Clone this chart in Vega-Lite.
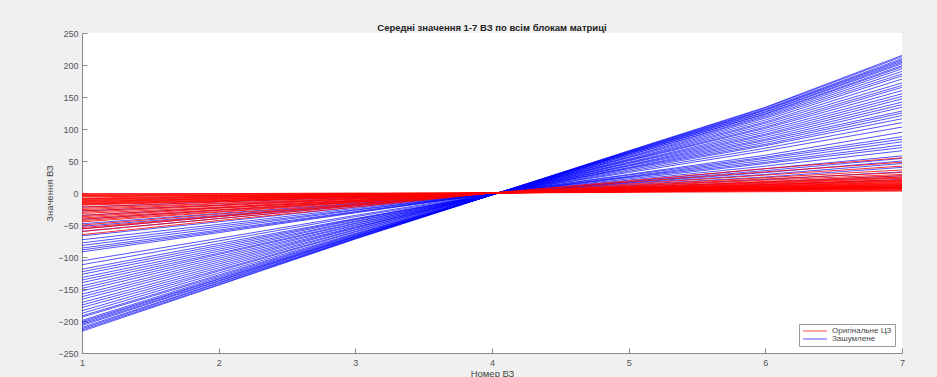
{"$schema":"https://vega.github.io/schema/vega-lite/v6.json","width":820,"height":320,"autosize":{"type":"none"},"padding":{"left":82,"top":33,"right":35,"bottom":24},"background":"#f0f0f0",
"title":{"text":"Середні значення 1-7 ВЗ по всім блокам матриці","fontSize":9.5,"fontWeight":"bold","font":"Liberation Sans","color":"#222222","offset":-3,"anchor":"middle"},
"data":{"values":[
{"g":"b","i":1,"x":1,"y":-216},{"g":"b","i":1,"x":2,"y":-144},{"g":"b","i":1,"x":3,"y":-72},{"g":"b","i":1,"x":4,"y":-3},{"g":"b","i":1,"x":5,"y":66},{"g":"b","i":1,"x":6,"y":134},{"g":"b","i":1,"x":7,"y":215},
{"g":"b","i":2,"x":1,"y":-214},{"g":"b","i":2,"x":2,"y":-143},{"g":"b","i":2,"x":3,"y":-71},{"g":"b","i":2,"x":4,"y":-3},{"g":"b","i":2,"x":5,"y":65},{"g":"b","i":2,"x":6,"y":133},{"g":"b","i":2,"x":7,"y":213},
{"g":"b","i":3,"x":1,"y":-212},{"g":"b","i":3,"x":2,"y":-141},{"g":"b","i":3,"x":3,"y":-71},{"g":"b","i":3,"x":4,"y":-3},{"g":"b","i":3,"x":5,"y":65},{"g":"b","i":3,"x":6,"y":131},{"g":"b","i":3,"x":7,"y":210},
{"g":"b","i":4,"x":1,"y":-210},{"g":"b","i":4,"x":2,"y":-140},{"g":"b","i":4,"x":3,"y":-70},{"g":"b","i":4,"x":4,"y":-3},{"g":"b","i":4,"x":5,"y":64},{"g":"b","i":4,"x":6,"y":130},{"g":"b","i":4,"x":7,"y":208},
{"g":"b","i":5,"x":1,"y":-207},{"g":"b","i":5,"x":2,"y":-138},{"g":"b","i":5,"x":3,"y":-69},{"g":"b","i":5,"x":4,"y":-3},{"g":"b","i":5,"x":5,"y":63},{"g":"b","i":5,"x":6,"y":129},{"g":"b","i":5,"x":7,"y":206},
{"g":"b","i":6,"x":1,"y":-205},{"g":"b","i":6,"x":2,"y":-137},{"g":"b","i":6,"x":3,"y":-68},{"g":"b","i":6,"x":4,"y":-3},{"g":"b","i":6,"x":5,"y":63},{"g":"b","i":6,"x":6,"y":127},{"g":"b","i":6,"x":7,"y":204},
{"g":"b","i":7,"x":1,"y":-203},{"g":"b","i":7,"x":2,"y":-135},{"g":"b","i":7,"x":3,"y":-68},{"g":"b","i":7,"x":4,"y":-3},{"g":"b","i":7,"x":5,"y":62},{"g":"b","i":7,"x":6,"y":126},{"g":"b","i":7,"x":7,"y":202},
{"g":"b","i":8,"x":1,"y":-201},{"g":"b","i":8,"x":2,"y":-134},{"g":"b","i":8,"x":3,"y":-67},{"g":"b","i":8,"x":4,"y":-3},{"g":"b","i":8,"x":5,"y":61},{"g":"b","i":8,"x":6,"y":124},{"g":"b","i":8,"x":7,"y":199},
{"g":"b","i":9,"x":1,"y":-199},{"g":"b","i":9,"x":2,"y":-132},{"g":"b","i":9,"x":3,"y":-66},{"g":"b","i":9,"x":4,"y":-3},{"g":"b","i":9,"x":5,"y":61},{"g":"b","i":9,"x":6,"y":123},{"g":"b","i":9,"x":7,"y":197},
{"g":"b","i":10,"x":1,"y":-194},{"g":"b","i":10,"x":2,"y":-130},{"g":"b","i":10,"x":3,"y":-65},{"g":"b","i":10,"x":4,"y":-3},{"g":"b","i":10,"x":5,"y":59},{"g":"b","i":10,"x":6,"y":121},{"g":"b","i":10,"x":7,"y":194},
{"g":"b","i":11,"x":1,"y":-192},{"g":"b","i":11,"x":2,"y":-128},{"g":"b","i":11,"x":3,"y":-64},{"g":"b","i":11,"x":4,"y":-3},{"g":"b","i":11,"x":5,"y":59},{"g":"b","i":11,"x":6,"y":119},{"g":"b","i":11,"x":7,"y":190},
{"g":"b","i":12,"x":1,"y":-188},{"g":"b","i":12,"x":2,"y":-125},{"g":"b","i":12,"x":3,"y":-63},{"g":"b","i":12,"x":4,"y":-3},{"g":"b","i":12,"x":5,"y":57},{"g":"b","i":12,"x":6,"y":117},{"g":"b","i":12,"x":7,"y":186},
{"g":"b","i":13,"x":1,"y":-184},{"g":"b","i":13,"x":2,"y":-122},{"g":"b","i":13,"x":3,"y":-61},{"g":"b","i":13,"x":4,"y":-3},{"g":"b","i":13,"x":5,"y":56},{"g":"b","i":13,"x":6,"y":114},{"g":"b","i":13,"x":7,"y":183},
{"g":"b","i":14,"x":1,"y":-179},{"g":"b","i":14,"x":2,"y":-120},{"g":"b","i":14,"x":3,"y":-60},{"g":"b","i":14,"x":4,"y":-2},{"g":"b","i":14,"x":5,"y":55},{"g":"b","i":14,"x":6,"y":111},{"g":"b","i":14,"x":7,"y":178},
{"g":"b","i":15,"x":1,"y":-175},{"g":"b","i":15,"x":2,"y":-117},{"g":"b","i":15,"x":3,"y":-58},{"g":"b","i":15,"x":4,"y":-2},{"g":"b","i":15,"x":5,"y":53},{"g":"b","i":15,"x":6,"y":109},{"g":"b","i":15,"x":7,"y":172},
{"g":"b","i":16,"x":1,"y":-171},{"g":"b","i":16,"x":2,"y":-114},{"g":"b","i":16,"x":3,"y":-57},{"g":"b","i":16,"x":4,"y":-2},{"g":"b","i":16,"x":5,"y":52},{"g":"b","i":16,"x":6,"y":106},{"g":"b","i":16,"x":7,"y":168},
{"g":"b","i":17,"x":1,"y":-166},{"g":"b","i":17,"x":2,"y":-111},{"g":"b","i":17,"x":3,"y":-55},{"g":"b","i":17,"x":4,"y":-2},{"g":"b","i":17,"x":5,"y":51},{"g":"b","i":17,"x":6,"y":103},{"g":"b","i":17,"x":7,"y":165},
{"g":"b","i":18,"x":1,"y":-162},{"g":"b","i":18,"x":2,"y":-108},{"g":"b","i":18,"x":3,"y":-54},{"g":"b","i":18,"x":4,"y":-2},{"g":"b","i":18,"x":5,"y":50},{"g":"b","i":18,"x":6,"y":101},{"g":"b","i":18,"x":7,"y":160},
{"g":"b","i":19,"x":1,"y":-158},{"g":"b","i":19,"x":2,"y":-105},{"g":"b","i":19,"x":3,"y":-53},{"g":"b","i":19,"x":4,"y":-2},{"g":"b","i":19,"x":5,"y":48},{"g":"b","i":19,"x":6,"y":98},{"g":"b","i":19,"x":7,"y":155},
{"g":"b","i":20,"x":1,"y":-153},{"g":"b","i":20,"x":2,"y":-102},{"g":"b","i":20,"x":3,"y":-51},{"g":"b","i":20,"x":4,"y":-2},{"g":"b","i":20,"x":5,"y":47},{"g":"b","i":20,"x":6,"y":95},{"g":"b","i":20,"x":7,"y":151},
{"g":"b","i":21,"x":1,"y":-149},{"g":"b","i":21,"x":2,"y":-99},{"g":"b","i":21,"x":3,"y":-50},{"g":"b","i":21,"x":4,"y":-2},{"g":"b","i":21,"x":5,"y":46},{"g":"b","i":21,"x":6,"y":92},{"g":"b","i":21,"x":7,"y":147},
{"g":"b","i":22,"x":1,"y":-145},{"g":"b","i":22,"x":2,"y":-96},{"g":"b","i":22,"x":3,"y":-48},{"g":"b","i":22,"x":4,"y":-2},{"g":"b","i":22,"x":5,"y":44},{"g":"b","i":22,"x":6,"y":90},{"g":"b","i":22,"x":7,"y":142},
{"g":"b","i":23,"x":1,"y":-140},{"g":"b","i":23,"x":2,"y":-94},{"g":"b","i":23,"x":3,"y":-47},{"g":"b","i":23,"x":4,"y":-2},{"g":"b","i":23,"x":5,"y":43},{"g":"b","i":23,"x":6,"y":87},{"g":"b","i":23,"x":7,"y":138},
{"g":"b","i":24,"x":1,"y":-136},{"g":"b","i":24,"x":2,"y":-91},{"g":"b","i":24,"x":3,"y":-45},{"g":"b","i":24,"x":4,"y":-2},{"g":"b","i":24,"x":5,"y":42},{"g":"b","i":24,"x":6,"y":84},{"g":"b","i":24,"x":7,"y":134},
{"g":"b","i":25,"x":1,"y":-132},{"g":"b","i":25,"x":2,"y":-88},{"g":"b","i":25,"x":3,"y":-44},{"g":"b","i":25,"x":4,"y":-2},{"g":"b","i":25,"x":5,"y":40},{"g":"b","i":25,"x":6,"y":82},{"g":"b","i":25,"x":7,"y":128},
{"g":"b","i":26,"x":1,"y":-127},{"g":"b","i":26,"x":2,"y":-85},{"g":"b","i":26,"x":3,"y":-42},{"g":"b","i":26,"x":4,"y":-2},{"g":"b","i":26,"x":5,"y":39},{"g":"b","i":26,"x":6,"y":79},{"g":"b","i":26,"x":7,"y":125},
{"g":"b","i":27,"x":1,"y":-123},{"g":"b","i":27,"x":2,"y":-82},{"g":"b","i":27,"x":3,"y":-41},{"g":"b","i":27,"x":4,"y":-2},{"g":"b","i":27,"x":5,"y":38},{"g":"b","i":27,"x":6,"y":76},{"g":"b","i":27,"x":7,"y":121},
{"g":"b","i":28,"x":1,"y":-119},{"g":"b","i":28,"x":2,"y":-79},{"g":"b","i":28,"x":3,"y":-40},{"g":"b","i":28,"x":4,"y":-2},{"g":"b","i":28,"x":5,"y":36},{"g":"b","i":28,"x":6,"y":74},{"g":"b","i":28,"x":7,"y":116},
{"g":"b","i":29,"x":1,"y":-112},{"g":"b","i":29,"x":2,"y":-75},{"g":"b","i":29,"x":3,"y":-37},{"g":"b","i":29,"x":4,"y":-2},{"g":"b","i":29,"x":5,"y":34},{"g":"b","i":29,"x":6,"y":70},{"g":"b","i":29,"x":7,"y":110},
{"g":"b","i":30,"x":1,"y":-106},{"g":"b","i":30,"x":2,"y":-71},{"g":"b","i":30,"x":3,"y":-35},{"g":"b","i":30,"x":4,"y":-1},{"g":"b","i":30,"x":5,"y":32},{"g":"b","i":30,"x":6,"y":66},{"g":"b","i":30,"x":7,"y":103},
{"g":"b","i":31,"x":1,"y":-92},{"g":"b","i":31,"x":2,"y":-62},{"g":"b","i":31,"x":3,"y":-31},{"g":"b","i":31,"x":4,"y":-1},{"g":"b","i":31,"x":5,"y":29},{"g":"b","i":31,"x":6,"y":59},{"g":"b","i":31,"x":7,"y":95},
{"g":"b","i":32,"x":1,"y":-89},{"g":"b","i":32,"x":2,"y":-60},{"g":"b","i":32,"x":3,"y":-30},{"g":"b","i":32,"x":4,"y":-1},{"g":"b","i":32,"x":5,"y":28},{"g":"b","i":32,"x":6,"y":56},{"g":"b","i":32,"x":7,"y":88},
{"g":"b","i":33,"x":1,"y":-86},{"g":"b","i":33,"x":2,"y":-58},{"g":"b","i":33,"x":3,"y":-29},{"g":"b","i":33,"x":4,"y":-1},{"g":"b","i":33,"x":5,"y":26},{"g":"b","i":33,"x":6,"y":54},{"g":"b","i":33,"x":7,"y":84},
{"g":"b","i":34,"x":1,"y":-82},{"g":"b","i":34,"x":2,"y":-55},{"g":"b","i":34,"x":3,"y":-27},{"g":"b","i":34,"x":4,"y":-1},{"g":"b","i":34,"x":5,"y":25},{"g":"b","i":34,"x":6,"y":51},{"g":"b","i":34,"x":7,"y":80},
{"g":"b","i":35,"x":1,"y":-78},{"g":"b","i":35,"x":2,"y":-52},{"g":"b","i":35,"x":3,"y":-26},{"g":"b","i":35,"x":4,"y":-1},{"g":"b","i":35,"x":5,"y":24},{"g":"b","i":35,"x":6,"y":48},{"g":"b","i":35,"x":7,"y":75},
{"g":"b","i":36,"x":1,"y":-73},{"g":"b","i":36,"x":2,"y":-49},{"g":"b","i":36,"x":3,"y":-24},{"g":"b","i":36,"x":4,"y":-1},{"g":"b","i":36,"x":5,"y":22},{"g":"b","i":36,"x":6,"y":46},{"g":"b","i":36,"x":7,"y":71},
{"g":"b","i":37,"x":1,"y":-67},{"g":"b","i":37,"x":2,"y":-45},{"g":"b","i":37,"x":3,"y":-22},{"g":"b","i":37,"x":4,"y":-1},{"g":"b","i":37,"x":5,"y":20},{"g":"b","i":37,"x":6,"y":42},{"g":"b","i":37,"x":7,"y":66},
{"g":"b","i":38,"x":1,"y":-60},{"g":"b","i":38,"x":2,"y":-40},{"g":"b","i":38,"x":3,"y":-20},{"g":"b","i":38,"x":4,"y":-1},{"g":"b","i":38,"x":5,"y":18},{"g":"b","i":38,"x":6,"y":38},{"g":"b","i":38,"x":7,"y":58},
{"g":"b","i":39,"x":1,"y":-56},{"g":"b","i":39,"x":2,"y":-37},{"g":"b","i":39,"x":3,"y":-19},{"g":"b","i":39,"x":4,"y":-1},{"g":"b","i":39,"x":5,"y":17},{"g":"b","i":39,"x":6,"y":35},{"g":"b","i":39,"x":7,"y":54},
{"g":"b","i":40,"x":1,"y":-52},{"g":"b","i":40,"x":2,"y":-35},{"g":"b","i":40,"x":3,"y":-17},{"g":"b","i":40,"x":4,"y":-1},{"g":"b","i":40,"x":5,"y":16},{"g":"b","i":40,"x":6,"y":32},{"g":"b","i":40,"x":7,"y":50},
{"g":"b","i":41,"x":1,"y":-48},{"g":"b","i":41,"x":2,"y":-32},{"g":"b","i":41,"x":3,"y":-16},{"g":"b","i":41,"x":4,"y":-1},{"g":"b","i":41,"x":5,"y":15},{"g":"b","i":41,"x":6,"y":29},{"g":"b","i":41,"x":7,"y":46},
{"g":"b","i":42,"x":1,"y":-41},{"g":"b","i":42,"x":2,"y":-27},{"g":"b","i":42,"x":3,"y":-14},{"g":"b","i":42,"x":4,"y":-1},{"g":"b","i":42,"x":5,"y":13},{"g":"b","i":42,"x":6,"y":25},{"g":"b","i":42,"x":7,"y":40},
{"g":"b","i":43,"x":1,"y":-35},{"g":"b","i":43,"x":2,"y":-23},{"g":"b","i":43,"x":3,"y":-12},{"g":"b","i":43,"x":4,"y":0},{"g":"b","i":43,"x":5,"y":11},{"g":"b","i":43,"x":6,"y":21},{"g":"b","i":43,"x":7,"y":33},
{"g":"b","i":44,"x":1,"y":-28},{"g":"b","i":44,"x":2,"y":-19},{"g":"b","i":44,"x":3,"y":-9},{"g":"b","i":44,"x":4,"y":0},{"g":"b","i":44,"x":5,"y":9},{"g":"b","i":44,"x":6,"y":17},{"g":"b","i":44,"x":7,"y":27},
{"g":"b","i":45,"x":1,"y":-22},{"g":"b","i":45,"x":2,"y":-14},{"g":"b","i":45,"x":3,"y":-7},{"g":"b","i":45,"x":4,"y":0},{"g":"b","i":45,"x":5,"y":7},{"g":"b","i":45,"x":6,"y":13},{"g":"b","i":45,"x":7,"y":21},
{"g":"r","i":46,"x":1,"y":-65},{"g":"r","i":46,"x":2,"y":-43},{"g":"r","i":46,"x":3,"y":-22},{"g":"r","i":46,"x":4,"y":0},{"g":"r","i":46,"x":5,"y":19},{"g":"r","i":46,"x":6,"y":38},{"g":"r","i":46,"x":7,"y":55},
{"g":"r","i":47,"x":1,"y":-60},{"g":"r","i":47,"x":2,"y":-40},{"g":"r","i":47,"x":3,"y":-20},{"g":"r","i":47,"x":4,"y":0},{"g":"r","i":47,"x":5,"y":17},{"g":"r","i":47,"x":6,"y":33},{"g":"r","i":47,"x":7,"y":48},
{"g":"r","i":48,"x":1,"y":-56},{"g":"r","i":48,"x":2,"y":-37},{"g":"r","i":48,"x":3,"y":-19},{"g":"r","i":48,"x":4,"y":0},{"g":"r","i":48,"x":5,"y":14},{"g":"r","i":48,"x":6,"y":28},{"g":"r","i":48,"x":7,"y":42},
{"g":"r","i":49,"x":1,"y":-54},{"g":"r","i":49,"x":2,"y":-36},{"g":"r","i":49,"x":3,"y":-18},{"g":"r","i":49,"x":4,"y":0},{"g":"r","i":49,"x":5,"y":12},{"g":"r","i":49,"x":6,"y":24},{"g":"r","i":49,"x":7,"y":36},
{"g":"r","i":50,"x":1,"y":-50},{"g":"r","i":50,"x":2,"y":-33},{"g":"r","i":50,"x":3,"y":-17},{"g":"r","i":50,"x":4,"y":0},{"g":"r","i":50,"x":5,"y":11},{"g":"r","i":50,"x":6,"y":22},{"g":"r","i":50,"x":7,"y":32},
{"g":"r","i":51,"x":1,"y":-45},{"g":"r","i":51,"x":2,"y":-30},{"g":"r","i":51,"x":3,"y":-15},{"g":"r","i":51,"x":4,"y":0},{"g":"r","i":51,"x":5,"y":10},{"g":"r","i":51,"x":6,"y":20},{"g":"r","i":51,"x":7,"y":29},
{"g":"r","i":52,"x":1,"y":-43},{"g":"r","i":52,"x":2,"y":-29},{"g":"r","i":52,"x":3,"y":-14},{"g":"r","i":52,"x":4,"y":0},{"g":"r","i":52,"x":5,"y":9},{"g":"r","i":52,"x":6,"y":18},{"g":"r","i":52,"x":7,"y":27},
{"g":"r","i":53,"x":1,"y":-41},{"g":"r","i":53,"x":2,"y":-27},{"g":"r","i":53,"x":3,"y":-14},{"g":"r","i":53,"x":4,"y":0},{"g":"r","i":53,"x":5,"y":9},{"g":"r","i":53,"x":6,"y":17},{"g":"r","i":53,"x":7,"y":25},
{"g":"r","i":54,"x":1,"y":-39},{"g":"r","i":54,"x":2,"y":-26},{"g":"r","i":54,"x":3,"y":-13},{"g":"r","i":54,"x":4,"y":0},{"g":"r","i":54,"x":5,"y":8},{"g":"r","i":54,"x":6,"y":16},{"g":"r","i":54,"x":7,"y":24},
{"g":"r","i":55,"x":1,"y":-37},{"g":"r","i":55,"x":2,"y":-24},{"g":"r","i":55,"x":3,"y":-12},{"g":"r","i":55,"x":4,"y":0},{"g":"r","i":55,"x":5,"y":8},{"g":"r","i":55,"x":6,"y":15},{"g":"r","i":55,"x":7,"y":23},
{"g":"r","i":56,"x":1,"y":-35},{"g":"r","i":56,"x":2,"y":-23},{"g":"r","i":56,"x":3,"y":-12},{"g":"r","i":56,"x":4,"y":0},{"g":"r","i":56,"x":5,"y":7},{"g":"r","i":56,"x":6,"y":14},{"g":"r","i":56,"x":7,"y":21},
{"g":"r","i":57,"x":1,"y":-32},{"g":"r","i":57,"x":2,"y":-22},{"g":"r","i":57,"x":3,"y":-11},{"g":"r","i":57,"x":4,"y":0},{"g":"r","i":57,"x":5,"y":7},{"g":"r","i":57,"x":6,"y":13},{"g":"r","i":57,"x":7,"y":20},
{"g":"r","i":58,"x":1,"y":-30},{"g":"r","i":58,"x":2,"y":-20},{"g":"r","i":58,"x":3,"y":-10},{"g":"r","i":58,"x":4,"y":0},{"g":"r","i":58,"x":5,"y":6},{"g":"r","i":58,"x":6,"y":13},{"g":"r","i":58,"x":7,"y":19},
{"g":"r","i":59,"x":1,"y":-28},{"g":"r","i":59,"x":2,"y":-19},{"g":"r","i":59,"x":3,"y":-9},{"g":"r","i":59,"x":4,"y":0},{"g":"r","i":59,"x":5,"y":6},{"g":"r","i":59,"x":6,"y":12},{"g":"r","i":59,"x":7,"y":18},
{"g":"r","i":60,"x":1,"y":-26},{"g":"r","i":60,"x":2,"y":-17},{"g":"r","i":60,"x":3,"y":-9},{"g":"r","i":60,"x":4,"y":0},{"g":"r","i":60,"x":5,"y":6},{"g":"r","i":60,"x":6,"y":11},{"g":"r","i":60,"x":7,"y":17},
{"g":"r","i":61,"x":1,"y":-24},{"g":"r","i":61,"x":2,"y":-16},{"g":"r","i":61,"x":3,"y":-8},{"g":"r","i":61,"x":4,"y":0},{"g":"r","i":61,"x":5,"y":5},{"g":"r","i":61,"x":6,"y":11},{"g":"r","i":61,"x":7,"y":16},
{"g":"r","i":62,"x":1,"y":-22},{"g":"r","i":62,"x":2,"y":-14},{"g":"r","i":62,"x":3,"y":-7},{"g":"r","i":62,"x":4,"y":0},{"g":"r","i":62,"x":5,"y":5},{"g":"r","i":62,"x":6,"y":10},{"g":"r","i":62,"x":7,"y":15},
{"g":"r","i":63,"x":1,"y":-19},{"g":"r","i":63,"x":2,"y":-13},{"g":"r","i":63,"x":3,"y":-6},{"g":"r","i":63,"x":4,"y":0},{"g":"r","i":63,"x":5,"y":5},{"g":"r","i":63,"x":6,"y":10},{"g":"r","i":63,"x":7,"y":14},
{"g":"r","i":64,"x":1,"y":-18},{"g":"r","i":64,"x":2,"y":-12},{"g":"r","i":64,"x":3,"y":-6},{"g":"r","i":64,"x":4,"y":0},{"g":"r","i":64,"x":5,"y":5},{"g":"r","i":64,"x":6,"y":9},{"g":"r","i":64,"x":7,"y":13},
{"g":"r","i":65,"x":1,"y":-17},{"g":"r","i":65,"x":2,"y":-12},{"g":"r","i":65,"x":3,"y":-6},{"g":"r","i":65,"x":4,"y":0},{"g":"r","i":65,"x":5,"y":4},{"g":"r","i":65,"x":6,"y":9},{"g":"r","i":65,"x":7,"y":13},
{"g":"r","i":66,"x":1,"y":-16},{"g":"r","i":66,"x":2,"y":-11},{"g":"r","i":66,"x":3,"y":-5},{"g":"r","i":66,"x":4,"y":0},{"g":"r","i":66,"x":5,"y":4},{"g":"r","i":66,"x":6,"y":8},{"g":"r","i":66,"x":7,"y":12},
{"g":"r","i":67,"x":1,"y":-15},{"g":"r","i":67,"x":2,"y":-10},{"g":"r","i":67,"x":3,"y":-5},{"g":"r","i":67,"x":4,"y":0},{"g":"r","i":67,"x":5,"y":4},{"g":"r","i":67,"x":6,"y":8},{"g":"r","i":67,"x":7,"y":11},
{"g":"r","i":68,"x":1,"y":-14},{"g":"r","i":68,"x":2,"y":-9},{"g":"r","i":68,"x":3,"y":-5},{"g":"r","i":68,"x":4,"y":0},{"g":"r","i":68,"x":5,"y":4},{"g":"r","i":68,"x":6,"y":7},{"g":"r","i":68,"x":7,"y":11},
{"g":"r","i":69,"x":1,"y":-13},{"g":"r","i":69,"x":2,"y":-9},{"g":"r","i":69,"x":3,"y":-4},{"g":"r","i":69,"x":4,"y":0},{"g":"r","i":69,"x":5,"y":4},{"g":"r","i":69,"x":6,"y":7},{"g":"r","i":69,"x":7,"y":10},
{"g":"r","i":70,"x":1,"y":-12},{"g":"r","i":70,"x":2,"y":-8},{"g":"r","i":70,"x":3,"y":-4},{"g":"r","i":70,"x":4,"y":0},{"g":"r","i":70,"x":5,"y":3},{"g":"r","i":70,"x":6,"y":7},{"g":"r","i":70,"x":7,"y":10},
{"g":"r","i":71,"x":1,"y":-11},{"g":"r","i":71,"x":2,"y":-7},{"g":"r","i":71,"x":3,"y":-4},{"g":"r","i":71,"x":4,"y":0},{"g":"r","i":71,"x":5,"y":3},{"g":"r","i":71,"x":6,"y":6},{"g":"r","i":71,"x":7,"y":9},
{"g":"r","i":72,"x":1,"y":-10},{"g":"r","i":72,"x":2,"y":-6},{"g":"r","i":72,"x":3,"y":-3},{"g":"r","i":72,"x":4,"y":0},{"g":"r","i":72,"x":5,"y":3},{"g":"r","i":72,"x":6,"y":6},{"g":"r","i":72,"x":7,"y":9},
{"g":"r","i":73,"x":1,"y":-9},{"g":"r","i":73,"x":2,"y":-6},{"g":"r","i":73,"x":3,"y":-3},{"g":"r","i":73,"x":4,"y":0},{"g":"r","i":73,"x":5,"y":3},{"g":"r","i":73,"x":6,"y":6},{"g":"r","i":73,"x":7,"y":8},
{"g":"r","i":74,"x":1,"y":-8},{"g":"r","i":74,"x":2,"y":-5},{"g":"r","i":74,"x":3,"y":-3},{"g":"r","i":74,"x":4,"y":0},{"g":"r","i":74,"x":5,"y":3},{"g":"r","i":74,"x":6,"y":5},{"g":"r","i":74,"x":7,"y":8},
{"g":"r","i":75,"x":1,"y":-6},{"g":"r","i":75,"x":2,"y":-4},{"g":"r","i":75,"x":3,"y":-2},{"g":"r","i":75,"x":4,"y":0},{"g":"r","i":75,"x":5,"y":3},{"g":"r","i":75,"x":6,"y":5},{"g":"r","i":75,"x":7,"y":7},
{"g":"r","i":76,"x":1,"y":-5},{"g":"r","i":76,"x":2,"y":-4},{"g":"r","i":76,"x":3,"y":-2},{"g":"r","i":76,"x":4,"y":0},{"g":"r","i":76,"x":5,"y":2},{"g":"r","i":76,"x":6,"y":5},{"g":"r","i":76,"x":7,"y":7},
{"g":"r","i":77,"x":1,"y":-4},{"g":"r","i":77,"x":2,"y":-3},{"g":"r","i":77,"x":3,"y":-1},{"g":"r","i":77,"x":4,"y":0},{"g":"r","i":77,"x":5,"y":2},{"g":"r","i":77,"x":6,"y":4},{"g":"r","i":77,"x":7,"y":6},
{"g":"r","i":78,"x":1,"y":-3},{"g":"r","i":78,"x":2,"y":-2},{"g":"r","i":78,"x":3,"y":-1},{"g":"r","i":78,"x":4,"y":0},{"g":"r","i":78,"x":5,"y":2},{"g":"r","i":78,"x":6,"y":4},{"g":"r","i":78,"x":7,"y":5},
{"g":"r","i":79,"x":1,"y":-2},{"g":"r","i":79,"x":2,"y":-1},{"g":"r","i":79,"x":3,"y":-1},{"g":"r","i":79,"x":4,"y":0},{"g":"r","i":79,"x":5,"y":2},{"g":"r","i":79,"x":6,"y":3},{"g":"r","i":79,"x":7,"y":4},
{"g":"r","i":80,"x":1,"y":-1},{"g":"r","i":80,"x":2,"y":-1},{"g":"r","i":80,"x":3,"y":0},{"g":"r","i":80,"x":4,"y":0},{"g":"r","i":80,"x":5,"y":1},{"g":"r","i":80,"x":6,"y":2},{"g":"r","i":80,"x":7,"y":3}
]},
"encoding":{
"x":{"field":"x","type":"quantitative","scale":{"domain":[1,7],"nice":false,"zero":false},"axis":{"title":"Номер ВЗ","values":[1,2,3,4,5,6,7],"format":"d","grid":false,"tickSize":-5,"labelPadding":10,"domainColor":"#8a8a8a","tickColor":"#8a8a8a","labelColor":"#555555","labelFontSize":9,"labelFont":"Liberation Sans","titleFont":"Liberation Sans","titleFontSize":9.5,"titleFontWeight":"normal","titleColor":"#444444","titlePadding":1,"labelFlush":false}},
"y":{"field":"y","type":"quantitative","scale":{"domain":[-250,250],"nice":false},"axis":{"title":"Значення ВЗ","values":[-250,-200,-150,-100,-50,0,50,100,150,200,250],"grid":false,"tickSize":-5,"labelPadding":9,"domainColor":"#8a8a8a","tickColor":"#8a8a8a","labelColor":"#555555","labelFontSize":9,"labelFont":"Liberation Sans","titleFont":"Liberation Sans","titleFontSize":9.5,"titleFontWeight":"normal","titleColor":"#444444","titlePadding":3}},
"color":{"field":"g","type":"nominal","scale":{"domain":["r","b"],"range":["#ff0000","#0000ff"]},"legend":{"title":null,"orient":"bottom-right","offset":7,"labelExpr":"datum.label == 'r' ? 'Оригінальне ЦЗ' : 'Зашумлене'","symbolType":"M-1,0H7","symbolSize":36,"symbolStrokeWidth":0.8,"labelFontSize":8,"labelFont":"Liberation Sans","labelColor":"#444444","fillColor":"white","strokeColor":"#999999","padding":3,"rowPadding":0,"labelOffset":22}},
"detail":{"field":"i","type":"nominal"}
},
"layer":[
{"transform":[{"filter":"datum.g == 'b'"}],"mark":{"type":"line","strokeWidth":0.8,"opacity":0.85}},
{"transform":[{"filter":"datum.g == 'r'"}],"mark":{"type":"line","strokeWidth":0.9,"opacity":0.9}}
],
"config":{"view":{"fill":"white","stroke":null}}
}
